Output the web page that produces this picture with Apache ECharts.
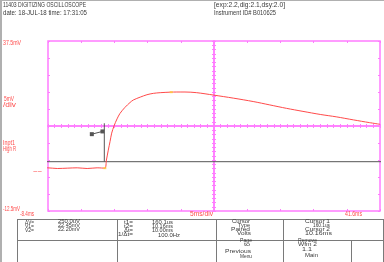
<!DOCTYPE html>
<html><head><meta charset="utf-8">
<script src="https://cdn.jsdelivr.net/npm/echarts@6/dist/echarts.min.js"></script>
<style>html,body{margin:0;padding:0;background:#fff}#c{width:384px;height:262px}</style>
</head><body><div id="c"></div>
<script>
// ---- data ----
const redTimes = [-10.4,-9.5,-8.5,-7,-5.5,-4,-2.5,-1,0.16,0.4,0.68,0.95,1.19,1.54,2.0,2.44,3.2,3.95,4.45,5.5,6.5,7.46,8.5,9.97,11,12.23,14,16.5,19.5,22.5,25,27.5,30,32.6,35,37.6,40,41.6];
const redValues = [0.1,0.0,0.2,0.0,0.1,0.2,0.0,0.2,0.1,2.5,5.4,8.0,10.4,12.5,14.6,16.2,18.0,19.4,20.15,21.0,21.7,22.1,22.3,22.45,22.5,22.5,22.3,21.6,20.7,19.7,18.7,17.7,16.8,15.9,15.2,14.3,13.5,13.0];
const blackTimes = [-9.0, 41.9];
const blackValues = [2.0, 2.0];
const trigTimes = [0.08, 0.08];
const trigValues = [2.0, 13.3];
const cursorTimes = [0.16, 10.16];
const cursorValues = [0.1, 22.45];
const yTickLabels = ['37.5mV','-12.5mV'];
const xTickLabels = ['-8.4ms','5ms/div','41.6ms'];

const X_MIN=-8.4, X_MAX=41.6, Y_MIN=-12.5, Y_MAX=37.5;
const MAG='#ff7cff', RED='#ff4a4a', DARK='#3a3a3a';
const FAM='Liberation Sans';

const cnv=document.createElement('canvas').getContext('2d');
function txt(s,x,y,w,size,color){
  cnv.font=size+'px "'+FAM+'"';
  const m=cnv.measureText(s).width||1;
  return {type:'text',x:x,y:y,scaleX:w/m,originX:0,originY:0,silent:true,
    style:{text:s,fill:color,font:size+'px "'+FAM+'"',textVerticalAlign:'top'}};
}
function ln(x1,y1,x2,y2,c,w){return {type:'line',silent:true,shape:{x1:x1,y1:y1,x2:x2,y2:y2},style:{stroke:c||'#7a7a7a',lineWidth:w||1}};}

const g=[
  {type:'rect',shape:{x:0,y:0,width:2,height:262},style:{fill:'#b0b0b0'},silent:true},
  {type:'rect',shape:{x:0,y:0,width:384,height:1},style:{fill:'#b0b0b0'},silent:true},
  txt('11403 DIGITIZING OSCILLOSCOPE',3,1,83,8,DARK),
  txt('date: 18-JUL-18 time: 17:31:05',3,9,84,8,DARK),
  txt('[exp:2.2,dig:2.1,dsy:2.0]',214,1,71,8,DARK),
  txt('Instrument ID# B010625',214,9,62,8,DARK),
  txt(yTickLabels[0],3,39,18,8,RED),
  txt('5mV',4,96,10,7,RED),
  txt('/div',3,102,13,7,RED),
  txt('Inpt1',3,140,12,7,RED),
  txt('High R',3,146,13,7,RED),
  txt(yTickLabels[1],3,205,17,8,RED),
  txt(xTickLabels[0],20,211,14,7,RED),
  txt(xTickLabels[1],190,211,23,7,RED),
  txt(xTickLabels[2],345,211,17,7,RED),
  // panel frame
  ln(17,219.5,384,219.5),ln(17,240.5,384,240.5),
  ln(17.5,219,17.5,262),ln(117.5,219,117.5,262),ln(216.5,219,216.5,262),ln(283.5,219,283.5,262),
  ln(351.5,240,351.5,262),ln(383.5,219,383.5,262),
  // panel text
  txt('\u0394V=',25,219,9,6,DARK),txt('V1=',25,223,9,6,DARK),txt('V2=',25,227,9,6,DARK),
  txt('250.0uV',58,218,22,6,DARK),txt('22.45mV',58,222,22,6,DARK),txt('22.20mV',58,226.5,22,6,DARK),
  txt('t1=',124,219,9,6,DARK),txt('t2=',124,223,9,6,DARK),txt('\u0394t=',124,227,9,6,DARK),txt('1/\u0394t=',118,231,15,6,DARK),
  txt('160.1us',152,219,21,6,DARK),txt('10.16ms',152,223,21,6,DARK),txt('10.00ms',152,227,21,6,DARK),txt('100.0Hz',158,232,22,6,DARK),
  txt('Cursor',232,218,18,6,DARK),txt('Type',238,222,12,6,DARK),txt('Paired',231,226,19,6,DARK),txt('Volts',237,230,14,6,DARK),
  txt('Page',240,237,12,6,DARK),txt('to',244,241,6,6,DARK),txt('Previous',225,248,26,6,DARK),txt('Menu',240,253,12,6,DARK),
  txt('Cursor 1',305,218,25,6,DARK),txt('160.1us',313,222,17,6,DARK),txt('Cursor 2',305,226,25,6,DARK),txt('10.16ms',305,230,27,6,DARK),
  txt('Remove',298,237,19,6,DARK),txt('Wfm 2',298,241,19,6,DARK),txt('1.1',302,246,10,6,DARK),txt('Main',305,252,13,6,DARK),
  txt('~~',33,169,9,7,RED)
];

function pairs(a,b){return a.map((t,i)=>[t,b[i]]);}
const baseX={type:'value',min:X_MIN,max:X_MAX,interval:5,axisLabel:{show:false},splitLine:{show:false}};
const baseY={type:'value',min:Y_MIN,max:Y_MAX,interval:5,axisLabel:{show:false},splitLine:{show:false}};
const frameTick={show:true,inside:true,length:2,lineStyle:{color:MAG,width:1}};
const centerX=(inside)=>Object.assign({},baseX,{position:'bottom',offset:-85,axisLine:{show:true,onZero:false,lineStyle:{color:MAG,width:1.5}},
  axisTick:{show:true,inside:inside,length:2,lineStyle:{color:MAG}},minorTick:{show:true,splitNumber:5,length:2,lineStyle:{color:MAG}}});
const centerY=(inside)=>Object.assign({},baseY,{position:'left',offset:-166,axisLine:{show:true,onZero:false,lineStyle:{color:MAG,width:1.5}},
  axisTick:{show:true,inside:inside,length:2,lineStyle:{color:MAG}},minorTick:{show:true,splitNumber:4,length:2,lineStyle:{color:MAG}}});

const chart=echarts.init(document.getElementById('c'),null,{renderer:'canvas'});
chart.setOption({
  animation:false,
  backgroundColor:'#fff',
  grid:{left:48,top:41,width:332,height:170,show:true,borderColor:MAG,borderWidth:1.5,backgroundColor:'transparent'},
  xAxis:[
    Object.assign({},baseX,{position:'bottom',axisLine:{show:false,onZero:false},axisTick:frameTick}),
    Object.assign({},baseX,{position:'top',axisLine:{show:false,onZero:false},axisTick:frameTick}),
    centerX(true),centerX(false)
  ],
  yAxis:[
    Object.assign({},baseY,{position:'left',axisLine:{show:false,onZero:false},axisTick:frameTick}),
    Object.assign({},baseY,{position:'right',axisLine:{show:false,onZero:false},axisTick:frameTick}),
    centerY(true),centerY(false)
  ],
  series:[
    {type:'line',data:pairs(blackTimes,blackValues),symbol:'none',clip:false,lineStyle:{color:'#555',width:1},z:3},
    {type:'line',data:pairs(trigTimes,trigValues),symbol:'none',clip:false,lineStyle:{color:'#555',width:1},z:3},
    {type:'line',data:[[-1.8,10.1],[-0.2,10.9]],symbol:['none','arrow'],symbolSize:4,clip:false,lineStyle:{color:'#555',width:1},itemStyle:{color:'#555'},z:3},
    {type:'line',data:pairs(redTimes,redValues),symbol:'none',smooth:0.3,clip:false,lineStyle:{color:RED,width:1},z:4},
    {type:'scatter',data:pairs(cursorTimes,cursorValues),symbol:'rect',symbolSize:[3,2],itemStyle:{color:'#ffcc33'},z:5}
  ],
  graphic:g
});
</script></body></html>
